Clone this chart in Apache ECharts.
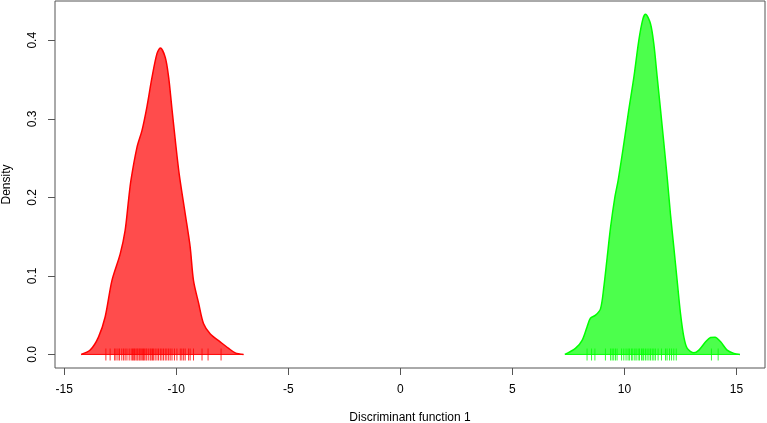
<!DOCTYPE html>
<html>
<head>
<meta charset="utf-8">
<script src="https://cdn.jsdelivr.net/npm/echarts@6/dist/echarts.min.js"></script>
<style>
  html, body { margin: 0; padding: 0; background: #fff; }
  #chart { width: 767px; height: 423px; }
</style>
</head>
<body>
<div id="chart"></div>
<script>
// density outline, group 1 (red)
const redX = [-14.24, -13.84, -13.47, -13.17, -12.87, -12.5, -12.28, -12.13, -12.02, -11.75, -11.53,
  -11.31, -11.08, -10.86, -10.71, -10.49, -10.34, -10.2, -10.04, -9.87, -9.6, -9.38, -9.23,
  -9.0, -8.78, -8.48, -8.04, -7.66, -7.37, -7.0];
const redY = [0, 0.0055, 0.022, 0.048, 0.094, 0.128, 0.158, 0.196, 0.222, 0.264, 0.285,
  0.315, 0.353, 0.383, 0.390, 0.378, 0.353, 0.315, 0.272, 0.230, 0.179, 0.137, 0.094,
  0.065, 0.039, 0.026, 0.016, 0.0076, 0.002, 0];

// density outline, group 2 (green)
const greenX = [7.34, 7.81, 8.11, 8.33, 8.48, 8.71, 8.93, 9.08, 9.23, 9.38, 9.57, 9.72, 9.97, 10.19,
  10.42, 10.64, 10.82, 10.94, 11.16, 11.31, 11.46, 11.61, 11.76, 11.91, 12.05, 12.2, 12.35, 12.5,
  12.65, 12.8, 13.1, 13.32, 13.62, 13.84, 14.04, 14.29, 14.58, 14.88, 15.15];
const greenY = [0, 0.0076, 0.018, 0.035, 0.046, 0.050, 0.058, 0.086, 0.124, 0.162, 0.200, 0.222, 0.268, 0.311,
  0.353, 0.400, 0.427, 0.433, 0.421, 0.395, 0.353, 0.311, 0.268, 0.224, 0.179, 0.137, 0.094, 0.052,
  0.022, 0.0076, 0.002, 0.0055, 0.016, 0.0216, 0.022, 0.016, 0.0055, 0.0013, 0];

// rug (observations)
const redRug = [-13.14, -12.95, -12.75, -12.69, -12.60, -12.53, -12.43, -12.35, -12.28, -12.20, -12.10,
  -12.01, -11.95, -11.90, -11.86, -11.80, -11.75, -11.71, -11.65, -11.61, -11.56, -11.50, -11.46,
  -11.41, -11.35, -11.31, -11.23, -11.16, -11.12, -11.06, -11.01, -10.94, -10.86, -10.79, -10.71,
  -10.64, -10.57, -10.49, -10.42, -10.34, -10.27, -10.19, -10.08, -9.97, -9.82, -9.75, -9.67, -9.60,
  -9.45, -9.38, -9.23, -8.85, -8.58, -8.0];
const greenRug = [8.33, 8.53, 8.68, 9.15, 9.38, 9.45, 9.52, 9.60, 9.67, 9.87, 9.97, 10.07, 10.16, 10.22,
  10.31, 10.37, 10.46, 10.52, 10.61, 10.67, 10.76, 10.82, 10.86, 10.94, 11.01, 11.09, 11.16, 11.24,
  11.31, 11.38, 11.50, 11.65, 11.83, 11.90, 12.01, 12.10, 12.20, 12.31, 13.88, 14.18];

const xTicks = [-15, -10, -5, 0, 5, 10, 15];
const yTicks = [0, 0.1, 0.2, 0.3, 0.4];

const font = 'Liberation Sans, Arial, sans-serif';
const zip = (xs, ys) => xs.map((x, i) => [x, ys[i]]);

function densitySeries(xs, ys, line, fill) {
  return [
    {
      type: 'line',
      data: zip(xs, ys),
      smooth: 0.3,
      symbol: 'none',
      lineStyle: { color: line, width: 1.5 },
      areaStyle: { color: fill, opacity: 1 },
      z: 2
    },
    {
      // base of the polygon
      type: 'line',
      data: [[xs[0], 0], [xs[xs.length - 1], 0]],
      symbol: 'none',
      lineStyle: { color: line, width: 1 },
      z: 2
    }
  ];
}

function rugSeries(xs, color) {
  return {
    type: 'scatter',
    data: xs.map(x => [x, 0]),
    symbol: 'rect',
    symbolSize: [1, 12],
    itemStyle: { color: color },
    z: 3
  };
}

const chart = echarts.init(document.getElementById('chart'));
chart.setOption({
  animation: false,
  grid: {
    left: 55, right: 2, top: 1, bottom: 55,
    containLabel: false,
    outerBoundsMode: 'none',
    show: true, borderColor: '#555', borderWidth: 1
  },
  xAxis: {
    type: 'value',
    min: -15.41,
    max: 16.27,
    name: 'Discriminant function 1',
    nameLocation: 'middle',
    nameGap: 44,
    nameTextStyle: { fontFamily: font, fontSize: 12, color: '#000' },
    axisLine: { show: false, onZero: false },
    splitLine: { show: false },
    axisTick: { show: true, length: 7, lineStyle: { color: '#555' }, customValues: xTicks },
    axisLabel: { margin: 16, fontFamily: font, fontSize: 12, color: '#000', customValues: xTicks }
  },
  yAxis: {
    type: 'value',
    min: -0.0173,
    max: 0.450,
    name: 'Density',
    nameLocation: 'middle',
    nameGap: 42,
    nameRotate: 90,
    nameTextStyle: { fontFamily: font, fontSize: 12, color: '#000' },
    axisLine: { show: false, onZero: false },
    splitLine: { show: false },
    axisTick: { show: true, length: 7, lineStyle: { color: '#555' }, customValues: yTicks },
    axisLabel: {
      margin: 16, rotate: 90, fontFamily: font, fontSize: 12, color: '#000',
      customValues: yTicks,
      formatter: v => v.toFixed(1)
    }
  },
  series: [
    ...densitySeries(redX, redY, '#FF0000', 'rgba(255,0,0,0.7)'),
    ...densitySeries(greenX, greenY, '#00FF00', 'rgba(0,255,0,0.7)'),
    rugSeries(redRug, '#FF0000'),
    rugSeries(greenRug, '#00FF00')
  ]
});
</script>
</body>
</html>
